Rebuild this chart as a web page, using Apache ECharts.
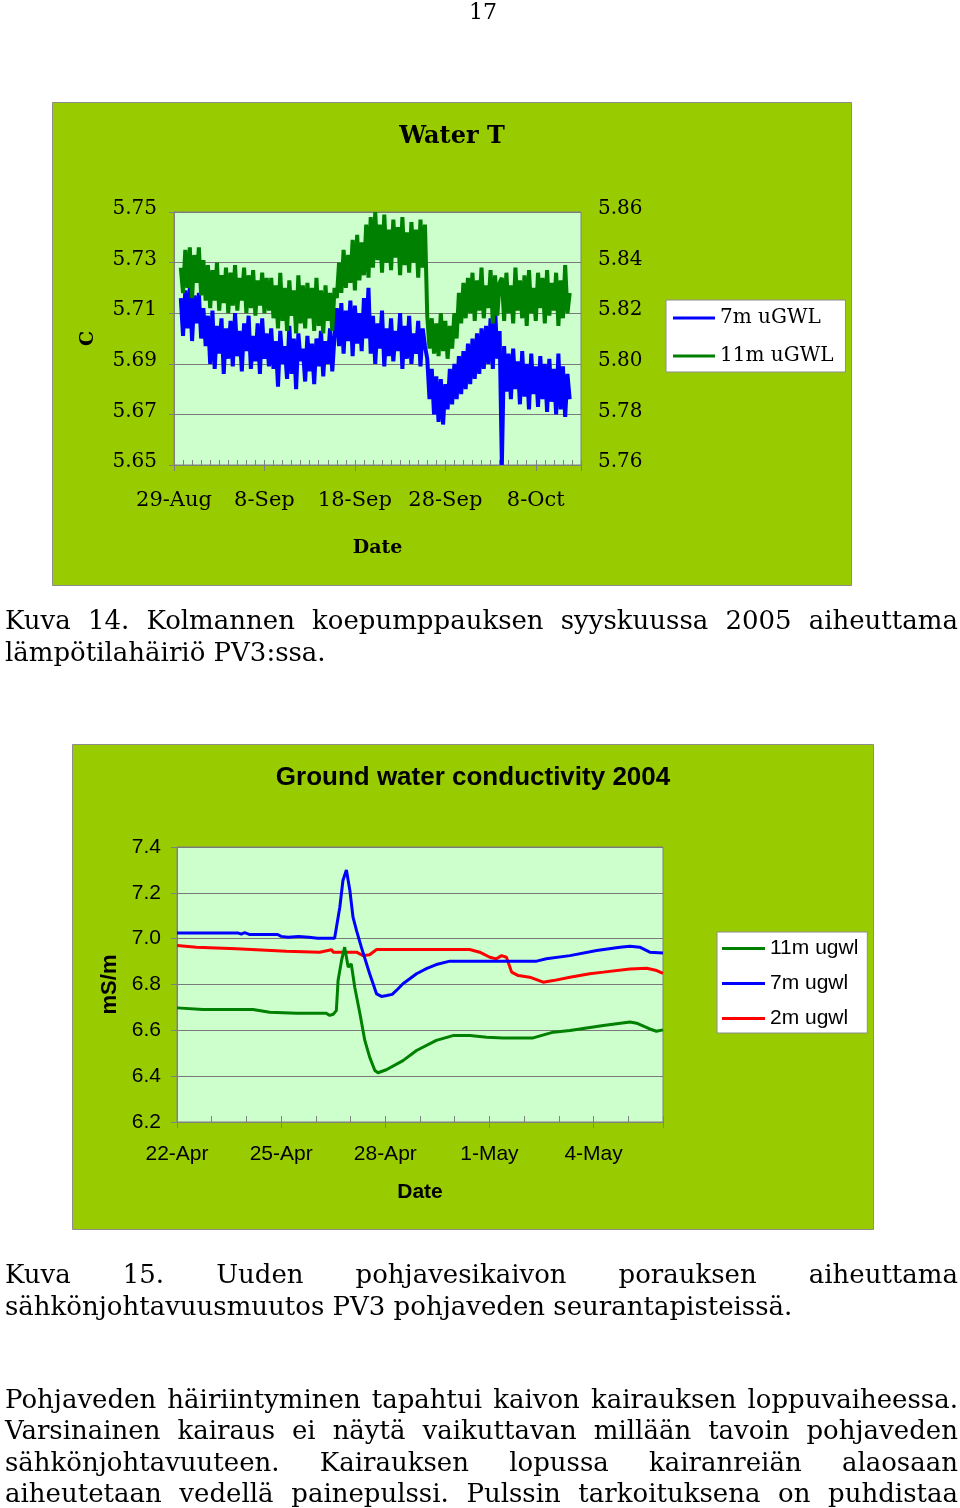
<!DOCTYPE html>
<html><head><meta charset="utf-8">
<script src="https://cdn.jsdelivr.net/npm/echarts@6/dist/echarts.min.js"></script>
<style>
html,body{margin:0;padding:0;background:#fff;}
#page{position:relative;width:960px;height:1508px;overflow:hidden;background:#fff;}
#chart{position:absolute;left:0;top:0;width:960px;height:1508px;}
.ln{position:absolute;left:5px;width:953px;font-family:'DejaVu Serif',serif;font-size:26px;line-height:31px;height:31px;color:#000;white-space:nowrap;}
.ln.j{display:flex;justify-content:space-between;}
.pn{position:absolute;left:0;width:966px;top:-1px;text-align:center;font-family:'DejaVu Serif',serif;font-size:22px;color:#000;}
</style></head>
<body><div id="page"><div id="chart"></div><div id="txt"></div></div>
<script>
// ---------- page text ----------
const pageNumber = '17';
const caption14 = ['Kuva 14. Kolmannen koepumppauksen syyskuussa 2005 aiheuttama', 'lämpötilahäiriö PV3:ssa.'];
const caption15 = ['Kuva 15. Uuden pohjavesikaivon porauksen aiheuttama', 'sähkönjohtavuusmuutos PV3 pohjaveden seurantapisteissä.'];
const paragraph = ['Pohjaveden häiriintyminen tapahtui kaivon kairauksen loppuvaiheessa.',
  'Varsinainen kairaus ei näytä vaikuttavan millään tavoin pohjaveden',
  'sähkönjohtavuuteen. Kairauksen lopussa kairanreiän alaosaan',
  'aiheutetaan vedellä painepulssi. Pulssin tarkoituksena on puhdistaa'];

// ---------- chart 1: Water T ----------
const waterTitle = 'Water T';
const waterXLabels = ['29-Aug', '8-Sep', '18-Sep', '28-Sep', '8-Oct'];
const waterSeriesNames = ['7m uGWL', '11m uGWL'];
const waterStartDay = 0.75;   // days after 29-Aug
const waterStepDay = 0.25;
const water7m = [
 5.716,5.701,5.719,5.704,5.720,5.699,5.717,5.706,5.718,5.700,5.712,5.697,
 5.709,5.690,5.711,5.688,5.705,5.694,5.708,5.686,5.704,5.692,5.707,5.689,5.710,5.693,5.703,5.687,5.706,5.695,5.709,5.688,5.701,5.691,5.706,5.686,5.708,5.692,5.702,5.689,
 5.704,5.688,5.699,5.681,5.703,5.690,5.697,5.684,5.705,5.686,5.700,5.680,5.702,5.691,5.696,5.683,5.701,5.687,5.698,5.682,5.700,5.689,5.703,5.685,5.699,5.690,5.704,5.687,5.701,
 5.712,5.697,5.714,5.694,5.711,5.699,5.715,5.693,5.713,5.698,5.710,5.695,5.716,5.700,5.720,
 5.694,5.709,5.690,5.706,5.696,5.711,5.689,5.704,5.693,5.708,5.691,5.703,5.695,5.710,5.688,5.705,5.692,5.709,5.690,5.702,5.694,5.707,5.689,5.704,5.697,
 5.692,5.676,5.688,5.670,5.685,5.667,5.684,5.666,5.682,
 5.672,5.688,5.674,5.690,5.676,5.693,5.678,5.695,5.680,5.698,5.682,5.700,5.684,5.702,5.686,5.704,5.688,5.705,5.690,5.708,5.688,5.712,5.692,5.703,
 5.650,
 5.697,5.679,5.694,5.676,5.696,5.680,5.691,5.674,5.695,5.677,5.690,5.672,5.694,5.678,5.689,5.673,5.693,5.676,5.690,5.671,5.692,5.675,5.688,5.670,5.694,5.672,5.689,5.669,5.686,5.676
];
const water11m = [
 5.838,5.828,5.845,5.830,5.846,5.826,5.843,5.832,5.846,5.827,5.841,5.825,
 5.839,5.822,5.837,5.825,5.840,5.821,5.835,5.824,5.838,5.820,5.836,5.823,5.839,5.821,5.834,5.825,5.838,5.820,5.835,5.822,5.837,5.819,5.833,5.823,5.836,5.820,5.834,5.821,
 5.834,5.818,5.831,5.814,5.836,5.817,5.830,5.813,5.833,5.819,5.829,5.812,5.835,5.816,5.831,5.814,5.832,5.818,5.830,5.813,5.834,5.815,5.829,5.812,5.831,5.817,5.828,5.813,5.830,
 5.826,5.840,5.828,5.845,5.830,5.843,5.832,5.849,5.829,5.851,5.833,5.848,5.835,5.855,5.834,
 5.858,5.838,5.860,5.841,5.855,5.836,5.859,5.840,5.853,5.837,5.857,5.842,5.854,5.835,5.858,5.839,5.852,5.836,5.856,5.840,5.853,5.834,5.857,5.838,5.855,
 5.819,5.806,5.818,5.804,5.816,5.803,5.820,5.805,5.817,
 5.802,5.815,5.806,5.820,5.810,5.828,5.816,5.832,5.818,5.834,5.820,5.836,5.817,5.833,5.821,5.838,5.818,5.831,5.822,5.837,5.816,5.835,5.819,5.832,
 5.834,
 5.817,5.836,5.820,5.831,5.816,5.838,5.821,5.833,5.818,5.835,5.815,5.837,5.820,5.830,5.817,5.836,5.822,5.834,5.816,5.837,5.819,5.832,5.821,5.836,5.815,5.833,5.818,5.839,5.820,5.828
];

// ---------- chart 2: conductivity ----------
const condTitle = 'Ground water conductivity 2004';
const condXLabels = ['22-Apr', '25-Apr', '28-Apr', '1-May', '4-May'];
const condSeriesNames = ['11m ugwl', '7m ugwl', '2m ugwl'];
const cond7mDays = [0,0.9,1.75,1.85,1.95,2.1,2.9,3.0,3.2,3.5,3.8,4.05,4.54,4.69,4.78,4.88,4.98,5.07,5.17,5.31,5.55,5.75,5.89,6.04,6.2,6.32,6.51,6.9,7.2,7.47,7.86,8.5,9.4,10.36,10.64,11.32,12.09,12.76,13.05,13.33,13.62,14.0];
const cond7mVals = [7.025,7.025,7.025,7.020,7.026,7.018,7.018,7.010,7.006,7.010,7.006,7.002,7.002,7.137,7.254,7.300,7.210,7.094,7.036,6.963,6.847,6.759,6.748,6.752,6.757,6.774,6.803,6.847,6.870,6.887,6.902,6.902,6.902,6.902,6.912,6.926,6.948,6.963,6.967,6.963,6.941,6.937];
const cond2mDays = [0,0.56,1.71,3.15,4.11,4.45,4.5,5.17,5.36,5.55,5.75,6.51,8.43,8.72,9.01,9.2,9.35,9.49,9.64,9.83,10.16,10.55,10.84,11.32,11.89,12.28,13.05,13.53,13.82,14.0];
const cond2mVals = [6.970,6.963,6.956,6.945,6.941,6.952,6.941,6.941,6.926,6.930,6.953,6.953,6.953,6.941,6.919,6.912,6.926,6.919,6.854,6.839,6.832,6.810,6.817,6.832,6.847,6.854,6.868,6.871,6.861,6.849];
const cond11mDays = [0,0.75,2.19,2.67,3.44,4.30,4.40,4.50,4.59,4.64,4.74,4.83,4.93,5.02,5.12,5.27,5.41,5.55,5.70,5.79,6.03,6.51,6.90,7.47,7.95,8.44,8.92,9.40,10.26,10.84,11.32,12.28,13.05,13.24,13.62,13.81,14.0];
const cond11mVals = [6.698,6.691,6.691,6.679,6.675,6.675,6.665,6.670,6.686,6.817,6.905,6.963,6.876,6.890,6.788,6.672,6.556,6.483,6.425,6.415,6.428,6.468,6.512,6.556,6.577,6.577,6.570,6.567,6.567,6.592,6.599,6.621,6.636,6.631,6.606,6.596,6.602];

// ---------- text rendering ----------
const txt = document.getElementById('txt');
function addLine(text, top, justify){
  const d = document.createElement('div');
  d.className = 'ln' + (justify ? ' j' : '');
  d.style.top = top + 'px';
  if (justify) {
    text.split(' ').forEach(w => { const s = document.createElement('span'); s.textContent = w; d.appendChild(s); });
  } else d.textContent = text;
  txt.appendChild(d);
}
const pn = document.createElement('div'); pn.className = 'pn'; pn.textContent = pageNumber; txt.appendChild(pn);
addLine(caption14[0], 605, true); addLine(caption14[1], 637, false);
addLine(caption15[0], 1259, true); addLine(caption15[1], 1291, false);
paragraph.forEach((l, i) => addLine(l, 1384 + i * 31.3, true));

// ---------- chart ----------
const f1 = "'DejaVu Serif', serif";
const f2 = "'Liberation Sans', Arial, sans-serif";
const gridCol = '#7a7a7a';
const axisCol = '#808080';
const d7 = water7m.map((v, i) => [waterStartDay + i * waterStepDay, v]);
const d11 = water11m.map((v, i) => [waterStartDay + i * waterStepDay, v]);
const c7 = cond7mDays.map((d, i) => [d, cond7mVals[i]]);
const c2 = cond2mDays.map((d, i) => [d, cond2mVals[i]]);
const c11 = cond11mDays.map((d, i) => [d, cond11mVals[i]]);

const chart = echarts.init(document.getElementById('chart'), null, {renderer: 'canvas'});
const option = {
  animation: false,
  backgroundColor: 'transparent',
  graphic: [
    {type:'rect', z:-10, silent:true, shape:{x:52.5,y:102.5,width:799,height:483}, style:{fill:'#99CC00', stroke:'#8c8c8c', lineWidth:1}},
    {type:'rect', z:-10, silent:true, shape:{x:72.5,y:744.5,width:801,height:485}, style:{fill:'#99CC00', stroke:'#8c8c8c', lineWidth:1}},
    {type:'text', z:5, x:452, y:137, style:{text:waterTitle, align:'center', verticalAlign:'middle', font:"bold 24px 'DejaVu Serif', serif", fill:'#000'}},
    {type:'text', z:5, x:473, y:778, style:{text:condTitle, align:'center', verticalAlign:'middle', font:"bold 26px 'Liberation Sans', Arial, sans-serif", fill:'#000'}}
  ],
  grid: [
    {left:174, top:212, width:407, height:253, show:true, backgroundColor:'#CCFFCC', borderColor:axisCol, borderWidth:1},
    {left:177, top:847, width:486, height:275, show:true, backgroundColor:'#CCFFCC', borderColor:axisCol, borderWidth:1}
  ],
  legend: [
    {data: waterSeriesNames, orient:'vertical', left:666, top:300, padding:[8,12,6,7], itemGap:18, itemWidth:42, itemHeight:3, icon:'rect',
     backgroundColor:'#fff', borderColor:'#8c8c8c', borderWidth:1, borderRadius:0,
     textStyle:{fontFamily:f1, fontSize:20, color:'#000'}},
    {data: condSeriesNames, orient:'vertical', left:717, top:932, padding:[6,9,4,5], itemGap:14, itemWidth:43, itemHeight:3, icon:'rect',
     backgroundColor:'#fff', borderColor:'#8c8c8c', borderWidth:1, borderRadius:0,
     textStyle:{fontFamily:f2, fontSize:21, color:'#000'}}
  ],
  xAxis: [
    {gridIndex:0, type:'value', position:'bottom', min:0, max:45, interval:10,
     axisLine:{show:true, lineStyle:{color:axisCol}}, axisTick:{show:true, length:6, lineStyle:{color:axisCol}},
     axisLabel:{formatter: v => (v % 10 === 0 ? waterXLabels[v / 10] : ''), margin:25, fontFamily:f1, fontSize:21, color:'#000'},
     splitLine:{show:false}, name:'Date', nameLocation:'middle', nameGap:74,
     nameTextStyle:{fontFamily:f1, fontSize:19, fontWeight:'bold', color:'#000'}},
    {gridIndex:0, type:'value', position:'bottom', min:0, max:45, interval:1,
     axisLine:{show:false}, axisTick:{show:true, inside:true, length:5, lineStyle:{color:axisCol}},
     axisLabel:{show:false}, splitLine:{show:false}},
    {gridIndex:1, type:'value', position:'bottom', min:0, max:14, interval:3,
     axisLine:{show:true, lineStyle:{color:axisCol}}, axisTick:{show:true, length:6, lineStyle:{color:axisCol}},
     axisLabel:{formatter: v => (v % 3 === 0 ? condXLabels[v / 3] : ''), margin:22, fontFamily:f2, fontSize:21, color:'#000'},
     splitLine:{show:false}, name:'Date', nameLocation:'middle', nameGap:60,
     nameTextStyle:{fontFamily:f2, fontSize:21, fontWeight:'bold', color:'#000'}},
    {gridIndex:1, type:'value', position:'bottom', min:0, max:14, interval:1,
     axisLine:{show:false}, axisTick:{show:true, inside:true, length:6, lineStyle:{color:axisCol}},
     axisLabel:{show:false}, splitLine:{show:false}}
  ],
  yAxis: [
    {gridIndex:0, type:'value', position:'left', min:5.65, max:5.75, interval:0.02,
     axisLine:{show:true, lineStyle:{color:axisCol}}, axisTick:{show:true, length:5, lineStyle:{color:axisCol}},
     axisLabel:{formatter: v => v.toFixed(2), margin:17, fontFamily:f1, fontSize:20, color:'#000', verticalAlign:'bottom', lineHeight:6},
     splitLine:{show:true, lineStyle:{color:gridCol, width:1}},
     name:'C', nameLocation:'middle', nameGap:76, nameRotate:90,
     nameTextStyle:{fontFamily:f1, fontSize:19, fontWeight:'bold', color:'#000'}},
    {gridIndex:0, type:'value', position:'right', min:5.76, max:5.86, interval:0.02,
     axisLine:{show:true, lineStyle:{color:axisCol}}, axisTick:{show:true, length:5, lineStyle:{color:axisCol}},
     axisLabel:{formatter: v => v.toFixed(2), margin:17, fontFamily:f1, fontSize:20, color:'#000', verticalAlign:'bottom', lineHeight:6},
     splitLine:{show:false}},
    {gridIndex:1, type:'value', position:'left', min:6.2, max:7.4, interval:0.2,
     axisLine:{show:true, lineStyle:{color:axisCol}}, axisTick:{show:true, length:6, lineStyle:{color:axisCol}},
     axisLabel:{formatter: v => v.toFixed(1), margin:16, fontFamily:f2, fontSize:21, color:'#000'},
     splitLine:{show:true, lineStyle:{color:gridCol, width:1}},
     name:'mS/m', nameLocation:'middle', nameGap:56, nameRotate:90,
     nameTextStyle:{fontFamily:f2, fontSize:22, fontWeight:'bold', color:'#000'}}
  ],
  series: [
    {type:'line', name:waterSeriesNames[0], xAxisIndex:0, yAxisIndex:0, data:d7, symbol:'none', showSymbol:false,
     lineStyle:{width:4, color:'#0000FF'}, itemStyle:{color:'#0000FF'}},
    {type:'line', name:waterSeriesNames[1], xAxisIndex:0, yAxisIndex:1, data:d11, symbol:'none', showSymbol:false,
     lineStyle:{width:4, color:'#008000'}, itemStyle:{color:'#008000'}},
    {type:'line', name:condSeriesNames[2], xAxisIndex:2, yAxisIndex:2, data:c2, symbol:'none', showSymbol:false,
     lineStyle:{width:3, color:'#FF0000'}, itemStyle:{color:'#FF0000'}},
    {type:'line', name:condSeriesNames[1], xAxisIndex:2, yAxisIndex:2, data:c7, symbol:'none', showSymbol:false,
     lineStyle:{width:3, color:'#0000FF'}, itemStyle:{color:'#0000FF'}},
    {type:'line', name:condSeriesNames[0], xAxisIndex:2, yAxisIndex:2, data:c11, symbol:'none', showSymbol:false,
     lineStyle:{width:3, color:'#008000'}, itemStyle:{color:'#008000'}}
  ]
};
chart.setOption(option);
</script>
</body></html>
